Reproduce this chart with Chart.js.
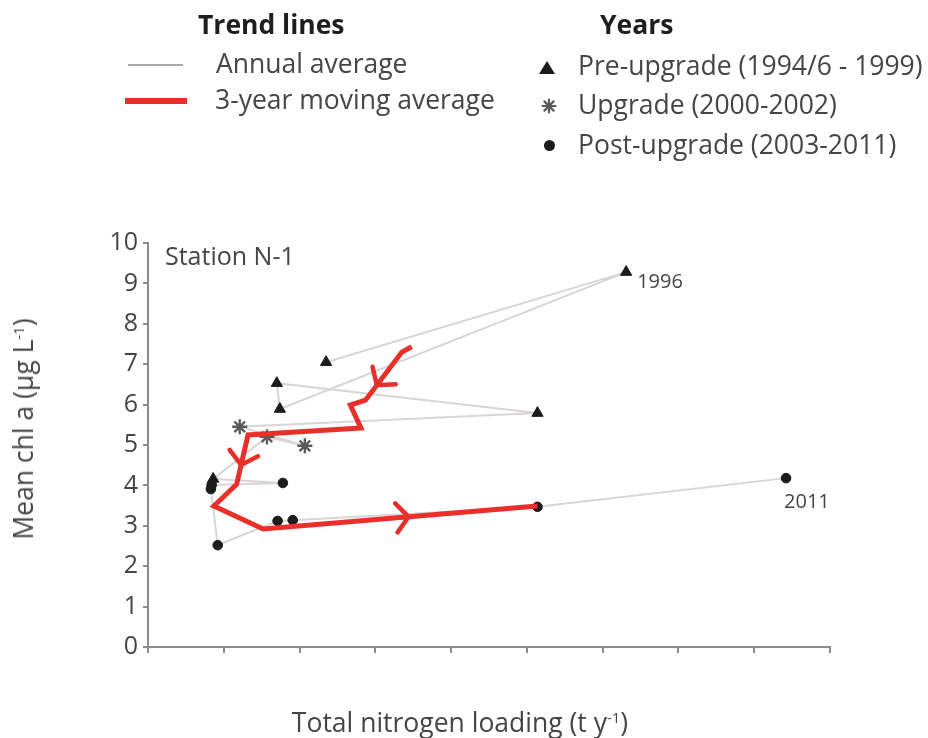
<!DOCTYPE html>
<html>
<head>
<meta charset="utf-8">
<script src="https://cdn.jsdelivr.net/npm/chart.js@4/dist/chart.umd.min.js"></script>
<style>
  html,body{margin:0;padding:0;background:#fff;}
  body{width:928px;height:738px;overflow:hidden;position:relative;font-family:"Open Sans",sans-serif;}
  #c{position:absolute;left:0;top:0;}
  .t{position:absolute;white-space:nowrap;font-size:26.5px;line-height:26px;color:#454545;}
  .b{font-weight:bold;color:#1e1e1e;}
  .sw{position:absolute;}
  sup{font-size:15px;line-height:0;vertical-align:9px;}
</style>
</head>
<body>
<canvas id="c" width="928" height="738" style="width:928px;height:738px"></canvas>

<!-- legend -->
<div class="t b" style="left:198px;top:11px">Trend lines</div>
<div class="sw" style="left:128px;top:64px;width:55px;height:2px;background:#a9a9a9"></div>
<div class="t" style="left:216px;top:50px">Annual average</div>
<div class="sw" style="left:125px;top:98px;width:62px;height:6px;background:#e8302b"></div>
<div class="t" style="left:215px;top:86px">3-year moving average</div>

<div class="t b" style="left:600px;top:11px">Years</div>
<div class="sw" style="left:539px;top:61px;width:0;height:0;border-left:8px solid transparent;border-right:8px solid transparent;border-bottom:13px solid #1c1c1c"></div>
<div class="t" style="left:578px;top:52px">Pre-upgrade (1994/6 - 1999)</div>
<svg class="sw" style="left:541px;top:98px" width="16" height="16" viewBox="0 0 16 16">
  <g stroke="#5a5a5a" stroke-width="2.2" stroke-linecap="round">
    <line x1="8" y1="1.5" x2="8" y2="14.5"/><line x1="1.5" y1="8" x2="14.5" y2="8"/>
    <line x1="3.4" y1="3.4" x2="12.6" y2="12.6"/><line x1="12.6" y1="3.4" x2="3.4" y2="12.6"/>
  </g>
</svg>
<div class="t" style="left:578px;top:91px">Upgrade (2000-2002)</div>
<div class="sw" style="left:544px;top:140px;width:11px;height:11px;border-radius:50%;background:#1c1c1c"></div>
<div class="t" style="left:578px;top:131px">Post-upgrade (2003-2011)</div>

<!-- axis titles -->
<div class="t" style="left:23px;top:429px;transform:translate(-50%,-50%) rotate(-90deg);line-height:30px">Mean chl a (μg L<sup>-1</sup>)</div>
<div class="t" style="left:460px;top:722px;transform:translate(-50%,-50%);line-height:30px">Total nitrogen loading (t y<sup>-1</sup>)</div>

<script>
// ---------------- data ----------------
// x: total nitrogen loading (axis units = tick intervals, unlabelled in source)
// y: mean chl a (µg/L)
const preUpgradeX  = [2.35, 6.31, 1.74, 1.70, 5.14, 0.86];
const preUpgradeY  = [7.05, 9.28, 5.89, 6.53, 5.79, 4.16];

const upgradeX     = [1.21, 2.07, 1.57];
const upgradeY     = [5.45, 4.98, 5.20];

const postUpgradeX = [1.78, 0.84, 0.83, 0.92, 1.71, 1.91, 5.14, 8.42];
const postUpgradeY = [4.06, 4.01, 3.91, 2.52, 3.12, 3.14, 3.47, 4.18];

// annual averages in chronological order
const annualX = [2.35, 6.31, 1.74, 1.70, 5.14, 1.21, 2.07, 1.57, 0.86, 1.78, 0.84, 0.83, 0.92, 1.71, 1.91, 5.14, 8.42];
const annualY = [7.05, 9.28, 5.89, 6.53, 5.79, 5.45, 4.98, 5.20, 4.16, 4.06, 4.01, 3.91, 2.52, 3.12, 3.14, 3.47, 4.18];

// 3-year moving average path
const movingX = [3.48, 3.35, 2.87, 2.67, 2.81, 1.32, 1.17, 0.87, 1.52, 5.14];
const movingY = [7.43, 7.30, 6.11, 5.99, 5.42, 5.25, 4.03, 3.49, 2.92, 3.49];

// direction arrows on the moving-average path: segment index and fraction along it
const arrowSegments  = [1, 5, 8];
const arrowFractions = [0.69, 0.61, 0.53];

// year annotations
const yearLabels = ['1996', '2011'];
const yearLabelX = [6.31, 8.42];
const yearLabelY = [9.28, 4.18];

const yTicks = [0,1,2,3,4,5,6,7,8,9,10];
const xTickCount = 9;
const panelLabel = 'Station N-1';

const pts = (xs, ys) => xs.map((x, i) => ({x, y: ys[i]}));

const FONT = '"Open Sans", sans-serif';
const AXIS = '#8c8c8c';
const RED = '#e8302b';

const arrowPlugin = {
  id: 'arrows',
  afterDatasetsDraw(chart) {
    const meta = chart.getDatasetMeta(4);
    const p = meta.data;
    const ctx = chart.ctx;
    ctx.save();
    ctx.strokeStyle = RED;
    ctx.lineWidth = 4.5;
    ctx.lineCap = 'round';
    ctx.lineJoin = 'miter';
    arrowSegments.forEach((s, i) => {
      const a = p[s], b = p[s + 1];
      const t = arrowFractions[i];
      const x = a.x + (b.x - a.x) * t, y = a.y + (b.y - a.y) * t;
      const ang = Math.atan2(b.y - a.y, b.x - a.x);
      const L = 19, h = 50 * Math.PI / 180;
      ctx.beginPath();
      ctx.moveTo(x - L * Math.cos(ang - h), y - L * Math.sin(ang - h));
      ctx.lineTo(x, y);
      ctx.lineTo(x - L * Math.cos(ang + h), y - L * Math.sin(ang + h));
      ctx.stroke();
    });
    ctx.restore();
  }
};

const labelPlugin = {
  id: 'labels',
  afterDraw(chart) {
    const ctx = chart.ctx, xs = chart.scales.x, ys = chart.scales.y, ca = chart.chartArea;
    ctx.save();
    ctx.fillStyle = '#454545';
    ctx.textBaseline = 'middle';
    ctx.font = '25px ' + FONT;
    ctx.fillText(panelLabel, ca.left + 17, ca.top + 15);
    ctx.font = '20px ' + FONT;
    const offs = [[11, 10], [-2, 24]];
    yearLabels.forEach((s, i) => {
      const px = xs.getPixelForValue(yearLabelX[i]);
      const py = ys.getPixelForValue(yearLabelY[i]);
      ctx.fillText(s, px + offs[i][0], py + offs[i][1]);
    });
    ctx.restore();
  }
};

new Chart(document.getElementById('c'), {
  type: 'scatter',
  data: {
    datasets: [
      { label: 'Annual average', data: pts(annualX, annualY), showLine: true,
        borderColor: '#d9d5d5', borderWidth: 2, pointRadius: 0, order: 5 },
      { label: 'Pre-upgrade (1994/6 - 1999)', data: pts(preUpgradeX, preUpgradeY),
        pointStyle: 'triangle', pointRadius: 6.5, backgroundColor: '#1c1c1c', borderColor: '#1c1c1c', borderWidth: 1, order: 3 },
      { label: 'Upgrade (2000-2002)', data: pts(upgradeX, upgradeY),
        pointStyle: 'star', pointRadius: 7.5, backgroundColor: '#5a5a5a', borderColor: '#5a5a5a', borderWidth: 2.4, order: 3 },
      { label: 'Post-upgrade (2003-2011)', data: pts(postUpgradeX, postUpgradeY),
        pointStyle: 'circle', pointRadius: 4.8, backgroundColor: '#1c1c1c', borderColor: '#1c1c1c', borderWidth: 1, order: 3 },
      { label: '3-year moving average', data: pts(movingX, movingY), showLine: true,
        borderColor: RED, borderWidth: 5, pointRadius: 0, borderJoinStyle: 'miter', order: 1 }
    ]
  },
  options: {
    responsive: false,
    animation: false,
    events: [],
    layout: { padding: { top: 243, right: 98, left: 0, bottom: 0 } },
    plugins: { legend: { display: false }, tooltip: { enabled: false } },
    scales: {
      x: {
        type: 'linear', min: 0, max: xTickCount,
        ticks: { stepSize: 1, display: false },
        grid: { drawOnChartArea: false, drawTicks: true, tickLength: 6, color: AXIS, lineWidth: 2 },
        border: { display: true, color: AXIS, width: 2 },
        afterFit: s => { s.height = 91; }
      },
      y: {
        type: 'linear', min: 0, max: 10,
        afterBuildTicks: s => { s.ticks = yTicks.map(v => ({ value: v })); },
        ticks: { color: '#454545', padding: 5, font: { family: FONT, size: 25 } },
        grid: { drawOnChartArea: false, drawTicks: true, tickLength: 5, color: AXIS, lineWidth: 2 },
        border: { display: true, color: AXIS, width: 2 },
        afterFit: s => { s.width = 148; }
      }
    }
  },
  plugins: [arrowPlugin, labelPlugin]
});
</script>
</body>
</html>
